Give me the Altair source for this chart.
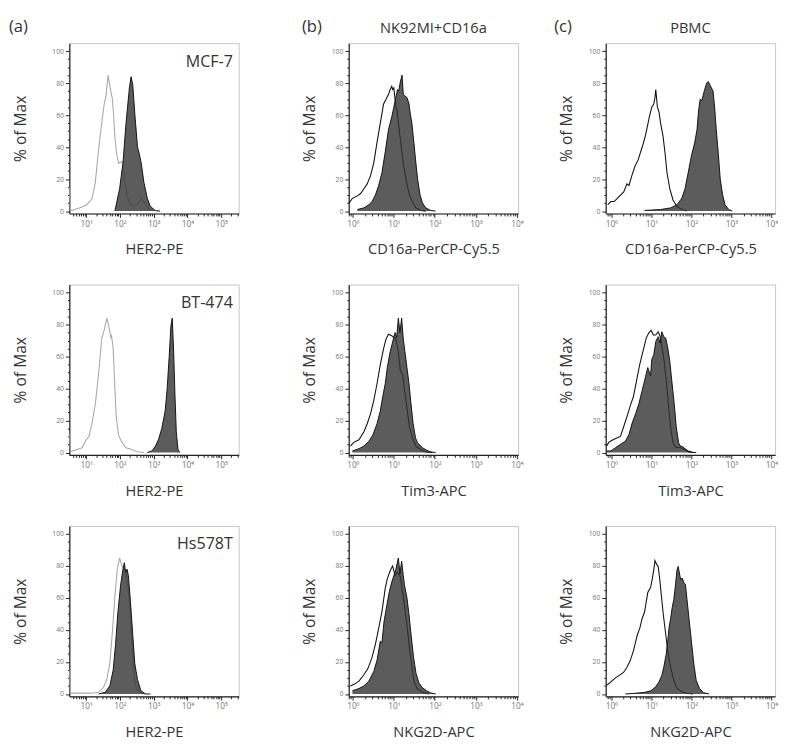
import math
import altair as alt
import pandas as pd

FONT = "Open Sans"

# ---------------- data (x = log10 intensity, y = % of Max) ----------------
# (a) row 1: MCF-7, HER2-PE
a1_ctrl_x = [0.50, 0.52, 0.60, 0.79, 1.00, 1.17, 1.27, 1.37, 1.46, 1.54, 1.58, 1.65, 1.71, 1.77, 1.81, 1.85, 1.90, 1.96, 2.06, 2.13, 2.21, 2.29, 2.38, 2.52, 2.63, 2.71, 2.86, 3.00]
a1_ctrl_y = [15, 0.5, 0.6, 2, 3.7, 7.7, 18, 39, 55, 68, 71, 85, 77, 71, 61, 46, 36, 30, 31, 22, 10, 4.7, 3.7, 4, 8, 5.7, 1.2, 0]
a1_fill_x = [1.85, 1.99, 2.09, 2.18, 2.28, 2.33, 2.38, 2.44, 2.52, 2.57, 2.63, 2.71, 2.81, 2.90, 3.05, 3.19]
a1_fill_y = [0, 14, 30, 55, 77, 84, 79, 61, 40, 36, 30, 18, 8, 3, 0.3, 0]

# (a) row 2: BT-474
a2_ctrl_x = [0.50, 0.53, 0.60, 0.88, 1.00, 1.08, 1.17, 1.27, 1.37, 1.46, 1.54, 1.61, 1.67, 1.73, 1.75, 1.80, 1.85, 1.89, 1.96, 2.04, 2.18, 2.33, 2.52, 2.71]
a2_ctrl_y = [12, 1, 1, 3, 8, 10, 18, 30, 50, 71, 77, 84, 79, 72, 73, 65, 40, 22, 11, 7, 3, 2, 0.5, 0]
a2_fill_x = [2.81, 2.95, 3.05, 3.14, 3.24, 3.34, 3.40, 3.46, 3.51, 3.55, 3.59, 3.63, 3.67, 3.72, 3.77]
a2_fill_y = [0, 1, 4, 8, 15, 26, 40, 60, 79, 84, 64, 36, 13, 2, 0]

# (a) row 3: Hs578T
a3_ctrl_x = [0.50, 0.53, 1.17, 1.37, 1.51, 1.61, 1.70, 1.77, 1.85, 1.92, 1.99, 2.06, 2.13, 2.21, 2.28, 2.33, 2.38, 2.42, 2.50, 2.62, 2.76]
a3_ctrl_y = [15, 0.5, 0.5, 1, 4, 9, 19, 37, 61, 78, 85, 80, 78, 72, 58, 41, 23, 10, 3, 0.5, 0]
a3_fill_x = [1.37, 1.56, 1.70, 1.80, 1.87, 1.94, 2.02, 2.09, 2.13, 2.17, 2.21, 2.25, 2.31, 2.38, 2.44, 2.52, 2.62, 2.76, 2.90]
a3_fill_y = [0, 1, 5, 15, 31, 51, 68, 78, 82, 76, 78, 74, 58, 37, 19, 9, 2, 0, 0]

# (b) row 1: NK92MI+CD16a, CD16a-PerCP-Cy5.5
b1_ctrl_x = [-0.09, -0.01, 0.11, 0.19, 0.27, 0.35, 0.43, 0.51, 0.59, 0.67, 0.75, 0.81, 0.87, 0.91, 0.95, 0.97, 1.00, 1.05, 1.08, 1.13, 1.19, 1.24, 1.31, 1.38, 1.47, 1.54, 1.66, 1.78]
b1_ctrl_y = [5, 8, 9.5, 11, 14, 17, 22, 30, 43, 55, 67, 70, 73, 76, 78, 76, 77, 65, 63, 51, 38.5, 28, 18, 10, 5, 2, 0.4, 0]
b1_fill_x = [0.11, 0.27, 0.39, 0.47, 0.55, 0.63, 0.71, 0.79, 0.87, 0.95, 1.00, 1.05, 1.09, 1.12, 1.16, 1.20, 1.23, 1.27, 1.32, 1.37, 1.40, 1.44, 1.48, 1.53, 1.58, 1.64, 1.70, 1.78, 1.90, 2.02]
b1_fill_y = [1, 2, 4, 6, 10, 16, 24, 37, 51, 59, 65, 71, 76, 75, 81, 85, 73, 72, 71, 67, 61, 55, 45, 32, 20, 10, 5, 2, 0.4, 0]

# (b) row 2: Tim3-APC
b2_ctrl_x = [-0.06, 0.03, 0.15, 0.27, 0.35, 0.43, 0.51, 0.59, 0.67, 0.75, 0.81, 0.87, 0.95, 1.00, 1.05, 1.11, 1.16, 1.21, 1.26, 1.32, 1.38, 1.47, 1.54, 1.66, 1.78, 1.94]
b2_ctrl_y = [4, 6.5, 8, 13, 18, 24, 32.5, 43, 55, 65, 71, 74, 73, 72, 71, 63, 51, 49, 39, 28, 16, 8, 4, 1.6, 0.4, 0]
b2_fill_x = [-0.01, 0.15, 0.27, 0.39, 0.49, 0.59, 0.67, 0.73, 0.79, 0.84, 0.91, 0.97, 1.03, 1.07, 1.11, 1.15, 1.19, 1.23, 1.27, 1.32, 1.37, 1.41, 1.47, 1.53, 1.58, 1.64, 1.70, 1.80, 1.90, 2.02]
b2_fill_y = [1, 2.4, 4, 7, 11, 18, 26, 35, 43, 53, 63, 69, 75, 72, 84, 75, 84, 71, 63, 53, 43, 32.5, 18, 9, 6, 4.5, 3, 1.4, 0.4, 0]

# (b) row 3: NKG2D-APC
b3_ctrl_x = [-0.06, 0.03, 0.15, 0.27, 0.37, 0.47, 0.55, 0.63, 0.71, 0.79, 0.84, 0.91, 0.97, 1.03, 1.08, 1.13, 1.16, 1.21, 1.26, 1.32, 1.38, 1.45, 1.50, 1.58, 1.70, 1.86]
b3_ctrl_y = [5, 6, 8, 12, 16, 23, 31, 41, 51.5, 66, 72, 77, 80, 74, 76, 75, 73, 64, 55.5, 43, 29, 15, 7, 3, 1, 0]
b3_fill_x = [-0.01, 0.15, 0.27, 0.39, 0.51, 0.59, 0.67, 0.71, 0.76, 0.83, 0.89, 0.95, 1.00, 1.05, 1.11, 1.15, 1.19, 1.23, 1.26, 1.32, 1.37, 1.42, 1.48, 1.54, 1.61, 1.69, 1.80, 1.90, 2.02]
b3_fill_y = [2, 3.4, 5, 8, 14, 21, 33, 32, 45, 55.5, 64, 70, 74, 78, 85, 75, 83, 74, 68, 60, 49.5, 37, 23, 13, 7, 4, 2, 0.6, 0]

# (c) row 1: PBMC, CD16a-PerCP-Cy5.5
c1_ctrl_x = [-0.09, -0.01, 0.07, 0.15, 0.23, 0.31, 0.39, 0.44, 0.51, 0.59, 0.67, 0.75, 0.79, 0.85, 0.91, 0.95, 1.01, 1.06, 1.09, 1.11, 1.15, 1.19, 1.23, 1.29, 1.34, 1.39, 1.46, 1.54, 1.64, 1.76, 1.88]
c1_ctrl_y = [4, 6, 6, 8, 10, 12, 17, 16, 22, 28, 32, 38.5, 41.6, 47, 54, 59, 65, 67, 71, 76, 65, 62, 55, 47, 36.5, 24, 14, 7, 3, 1, 0]
c1_fill_x = [0.83, 1.23, 1.48, 1.64, 1.76, 1.84, 1.92, 2.00, 2.08, 2.14, 2.18, 2.22, 2.26, 2.32, 2.38, 2.42, 2.46, 2.50, 2.54, 2.58, 2.62, 2.67, 2.72, 2.78, 2.84, 2.93, 3.02]
c1_fill_y = [0.4, 1, 2, 4, 8, 14, 24, 34.5, 42.5, 51, 63, 70, 69, 75, 80, 81, 79, 77, 75, 65, 51, 36.5, 20, 10, 4, 1, 0]

# (c) row 2: Tim3-APC
c2_ctrl_x = [-0.12, -0.06, 0.03, 0.15, 0.23, 0.31, 0.39, 0.49, 0.55, 0.63, 0.71, 0.79, 0.87, 0.93, 0.99, 1.05, 1.11, 1.17, 1.22, 1.27, 1.33, 1.38, 1.43, 1.49, 1.54, 1.62, 1.72, 1.81, 1.92, 2.04]
c2_ctrl_y = [4, 6.5, 7.8, 9.2, 10.2, 16.3, 22.4, 30.6, 34.7, 44.9, 55.1, 63.3, 71.4, 74.5, 76.5, 73.5, 73.5, 75.5, 72.4, 65.3, 55.1, 42.9, 28.6, 14.3, 6.1, 3.1, 3.1, 2, 0.4, 0]
c2_fill_x = [-0.12, -0.01, 0.11, 0.23, 0.35, 0.44, 0.52, 0.61, 0.69, 0.77, 0.85, 0.91, 0.98, 1.01, 1.06, 1.11, 1.17, 1.22, 1.26, 1.31, 1.36, 1.41, 1.46, 1.51, 1.57, 1.62, 1.68, 1.72, 1.78, 1.84, 1.92, 2.04, 2.12]
c2_fill_y = [1, 1, 3.1, 5.1, 7.1, 11.2, 18.4, 24.5, 30.6, 38.8, 46.9, 53.1, 48, 58.2, 61.2, 69.4, 72.4, 68.4, 75.5, 72.4, 71.4, 65.3, 57.1, 44.9, 30.6, 16.3, 6.1, 4.1, 3.7, 2.4, 1, 0, 0]

# (c) row 3: NKG2D-APC
c3_ctrl_x = [-0.12, -0.06, 0.03, 0.11, 0.20, 0.31, 0.39, 0.47, 0.55, 0.61, 0.65, 0.71, 0.77, 0.83, 0.87, 0.91, 0.98, 1.02, 1.06, 1.09, 1.14, 1.17, 1.21, 1.25, 1.30, 1.36, 1.41, 1.48, 1.56, 1.64, 1.76, 1.88, 2.04]
c3_ctrl_y = [5.5, 6.5, 8.5, 10.2, 11.6, 13.6, 16.7, 20.7, 26.8, 32.9, 37, 41, 47.2, 51.2, 57.3, 63.4, 66.5, 71.5, 77.6, 83.3, 80.7, 79.7, 71.5, 61.4, 49.2, 37, 26.8, 16.7, 8.5, 3.5, 1.4, 0.4, 0]
c3_fill_x = [0.35, 0.59, 0.83, 0.99, 1.11, 1.19, 1.26, 1.31, 1.37, 1.41, 1.44, 1.48, 1.52, 1.56, 1.60, 1.64, 1.67, 1.70, 1.73, 1.77, 1.81, 1.85, 1.89, 1.94, 2.00, 2.06, 2.12, 2.20, 2.30, 2.44]
c3_fill_y = [0, 0.4, 1, 2, 4.5, 7.5, 11.6, 16.7, 24.8, 33, 41, 47, 54, 59, 67.5, 77.6, 79.7, 75.6, 71.5, 72.5, 69.5, 68.5, 59, 47, 33, 18.7, 8.5, 3.5, 0.8, 0]

# labels
col_letters = ["(a)", "(b)", "(c)"]
col_headers = ["", "NK92MI+CD16a", "PBMC"]
a_samples = ["MCF-7", "BT-474", "Hs578T"]
a_xtitle = "HER2-PE"
bc_xtitles = ["CD16a-PerCP-Cy5.5", "Tim3-APC", "NKG2D-APC"]
y_title = "% of Max"

W, H = 174, 175
SUP = {0: "⁰", 1: "¹", 2: "²", 3: "³", 4: "⁴", 5: "⁵"}


def x_axis_values(lo, hi, majors):
    vals = list(majors)
    for n in range(math.floor(lo) - 1, math.ceil(hi) + 1):
        for k in range(2, 10):
            v = n + math.log10(k)
            if lo <= v <= hi:
                vals.append(round(v, 4))
    return sorted(vals)


def label_expr(majors):
    parts = []
    for m in majors:
        parts.append(f"datum.value == {m} ? '10{SUP[m]}' : ")
    return "".join(parts) + "''"


def text_layer(txt, x, y, size, align):
    return alt.Chart(pd.DataFrame({"t": [txt]})).mark_text(
        align=align, baseline="middle", fontSize=size, font=FONT, color="#333333"
    ).encode(x=alt.value(x), y=alt.value(y), text="t:N")


def panel(cx, cy, fx, fy, domain, majors, ctrl_color, xtitle, ypad,
          sample=None, header=None, letter=None, letter_dx=0):
    df = pd.DataFrame({
        "lx": list(cx) + list(fx),
        "pct": list(cy) + list(fy),
        "s": ["ctrl"] * len(cx) + ["fill"] * len(fx),
    })
    xax = alt.Axis(
        values=x_axis_values(domain[0], domain[1], majors),
        labelExpr=label_expr(majors),
        tickSize={"condition": {"test": "datum.value % 1 == 0", "value": 4}, "value": 2.5},
        labelFontSize=8.5, labelOverlap=False, labelFlush=False, labelPadding=2,
        title=xtitle, titleFontSize=15, titlePadding=15, grid=False,
    )
    yax = alt.Axis(
        values=list(range(0, 101, 5)),
        labelExpr="datum.value % 20 == 0 ? datum.label : ''",
        tickSize={"condition": {"test": "datum.value % 20 == 0", "value": 4}, "value": 2},
        labelFontSize=7, labelOverlap=False, labelPadding=2,
        title=y_title, titleFontSize=16, titlePadding=ypad, grid=False,
    )
    X = alt.X("lx:Q", scale=alt.Scale(domain=domain, nice=False, zero=False), axis=xax)
    Y = alt.Y("pct:Q", scale=alt.Scale(domain=[-1.5, 105], nice=False, zero=False),
              axis=yax, stack=None)
    base = alt.Chart(df)
    ctrl = base.transform_filter("datum.s == 'ctrl'").mark_line(
        color=ctrl_color, strokeWidth=1.1, clip=True).encode(x=X, y=Y)
    area = base.transform_filter("datum.s == 'fill'").mark_area(
        color="#333333", fillOpacity=0.8, clip=True).encode(x=X, y=Y, y2=alt.datum(0))
    outline = base.transform_filter("datum.s == 'fill'").mark_line(
        color="#111111", strokeWidth=1, clip=True).encode(x=X, y=Y)
    layers = [ctrl, area, outline]
    if sample:
        layers.append(text_layer(sample, W - 6, 19, 16.5, "right"))
    if header:
        layers.append(text_layer(header, W / 2, -15, 15, "center"))
    if letter:
        layers.append(text_layer(letter, letter_dx, -16, 17, "left"))
    return alt.layer(*layers).properties(width=W, height=H)


A_DOM = [0.5, 5.52]
A_MAJ = [1, 2, 3, 4, 5]
B_DOM = [-0.10, 4.03]
C_DOM = [-0.14, 4.09]
BC_MAJ = [0, 1, 2, 3, 4]
GRAY = "#a8a8a8"
BLACK = "#111111"

a1 = panel(a1_ctrl_x, a1_ctrl_y, a1_fill_x, a1_fill_y, A_DOM, A_MAJ, GRAY, a_xtitle, 24,
           sample=a_samples[0], letter=col_letters[0], letter_dx=-62)
a2 = panel(a2_ctrl_x, a2_ctrl_y, a2_fill_x, a2_fill_y, A_DOM, A_MAJ, GRAY, a_xtitle, 24,
           sample=a_samples[1])
a3 = panel(a3_ctrl_x, a3_ctrl_y, a3_fill_x, a3_fill_y, A_DOM, A_MAJ, GRAY, a_xtitle, 24,
           sample=a_samples[2])
b1 = panel(b1_ctrl_x, b1_ctrl_y, b1_fill_x, b1_fill_y, B_DOM, BC_MAJ, BLACK, bc_xtitles[0], 14,
           header=col_headers[1], letter=col_letters[1], letter_dx=-48)
b2 = panel(b2_ctrl_x, b2_ctrl_y, b2_fill_x, b2_fill_y, B_DOM, BC_MAJ, BLACK, bc_xtitles[1], 14)
b3 = panel(b3_ctrl_x, b3_ctrl_y, b3_fill_x, b3_fill_y, B_DOM, BC_MAJ, BLACK, bc_xtitles[2], 14)
c1 = panel(c1_ctrl_x, c1_ctrl_y, c1_fill_x, c1_fill_y, C_DOM, BC_MAJ, BLACK, bc_xtitles[0], 14,
           header=col_headers[2], letter=col_letters[2], letter_dx=-53)
c2 = panel(c2_ctrl_x, c2_ctrl_y, c2_fill_x, c2_fill_y, C_DOM, BC_MAJ, BLACK, bc_xtitles[1], 14)
c3 = panel(c3_ctrl_x, c3_ctrl_y, c3_fill_x, c3_fill_y, C_DOM, BC_MAJ, BLACK, bc_xtitles[2], 14)

ROWGAP = 27
colA = alt.vconcat(a1, a2, a3, spacing=ROWGAP)
colB = alt.vconcat(b1, b2, b3, spacing=ROWGAP)
colC = alt.vconcat(c1, c2, c3, spacing=ROWGAP)
chart = alt.hconcat(
    colA, alt.hconcat(colB, colC, spacing=30),
    spacing=63,
).properties(padding=0).configure_view(stroke="#c4c4c4", strokeWidth=1).configure_axis(
    domainColor="#222222", domainWidth=1.2, tickColor="#222222", tickWidth=1,
    labelColor="#777777", labelFont=FONT, titleFont=FONT, titleColor="#333333",
    titleFontWeight="normal",
)

chart.save("out.html", embed_options={"renderer": "svg", "actions": False})
